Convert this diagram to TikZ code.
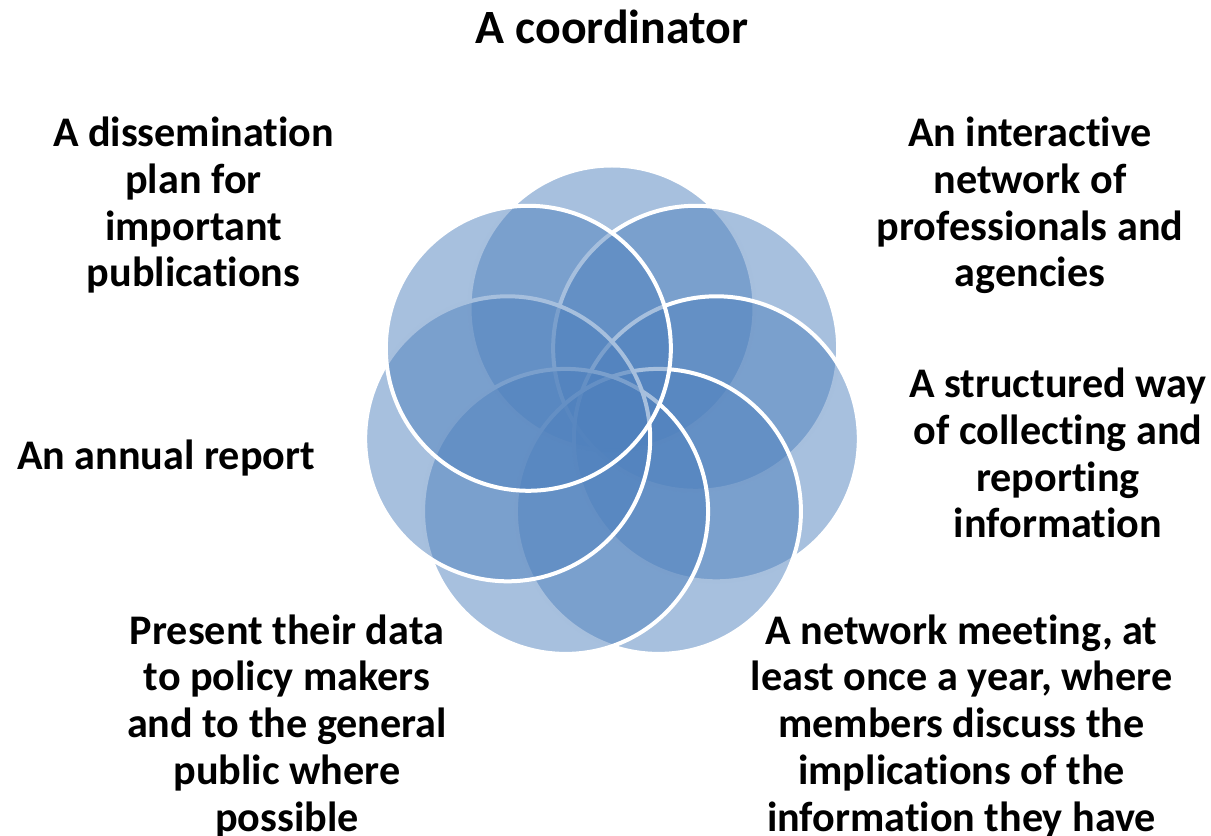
\documentclass[tikz,border=0pt]{standalone}
\usepackage{fontspec}
\setmainfont{Carlito}[Ligatures=NoCommon]
\usepackage{xcolor}
\definecolor{ringblue}{HTML}{4F81BD}

\begin{document}
\begin{tikzpicture}
\tikzstyle{ring}=[circle,draw=white,line width=0.1cm,fill=ringblue,fill opacity=0.5,minimum size=7.125cm,inner sep=0pt];
\tikzstyle{lbl}=[align=center,anchor=base,inner sep=0pt,font=\bfseries\fontsize{30}{33.2}\selectfont];
\useasboundingbox (-15.3,-10.525) rectangle (14.975,10.375);
\node[ring](c1) at (0,2.675) {};
\node[ring](c2) at (2.0914,1.6678) {};
\node[ring](c3) at (2.6079,-0.5952) {};
\node[ring](c4) at (1.1606,-2.4101) {};
\node[ring](c5) at (-1.1606,-2.4101) {};
\node[ring](c6) at (-2.6079,-0.5952) {};
\node[ring](c7) at (-2.0914,1.6678) {};
% base = baseline of the last line
\node[lbl,font=\bfseries\fontsize{34}{40}\selectfont](t1) at (0,9.275) {A coordinator};
\node[lbl](t2) at (10.45,3.2) {An interactive\\network of\\professionals and\\agencies};
\node[lbl](t3) at (11.15,-3.075) {A structured way\\of collecting and\\reporting\\information};
\node[lbl](t4) at (8.74,-10.4) {A network meeting, at\\least once a year, where\\members discuss the\\implications of the\\information they have};
\node[lbl](t5) at (-8.125,-10.4) {Present their data\\to policy makers\\and to the general\\public where\\possible};
\node[lbl](t6) at (-11.15,-1.375) {An annual report};
\node[lbl](t7) at (-10.4625,3.2) {A dissemination\\plan for\\important\\publications};
\end{tikzpicture}
\end{document}
